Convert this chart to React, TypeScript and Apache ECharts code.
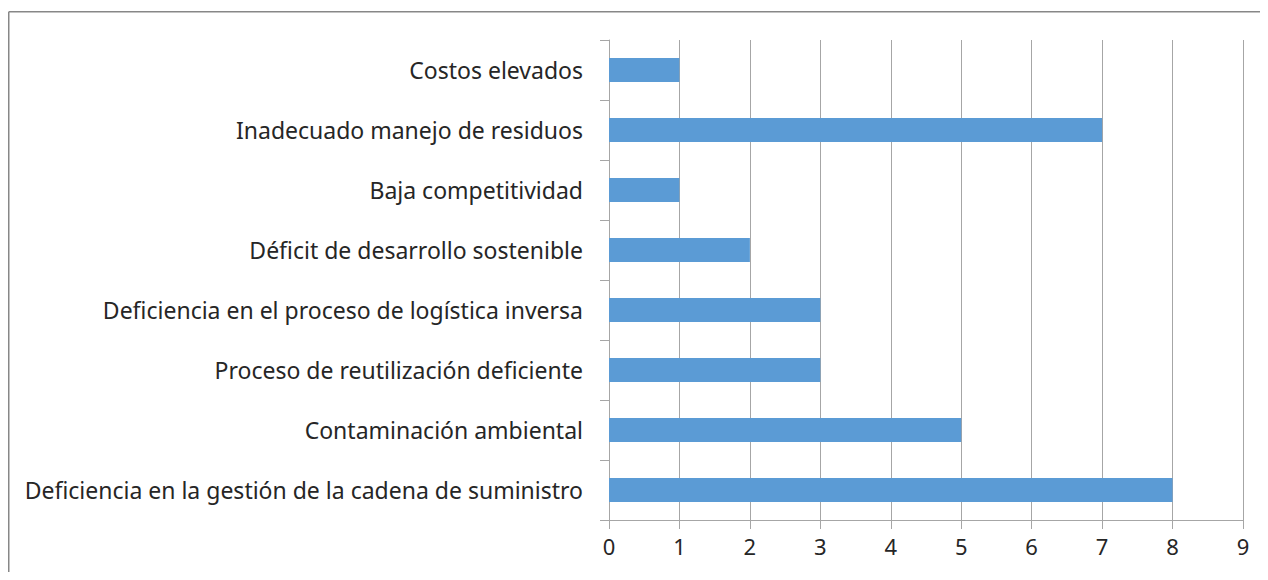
import React, { useEffect, useRef } from "react";
import * as echarts from "echarts";

const categories = [
  "Deficiencia en la gestión de la cadena de suministro",
  "Contaminación ambiental",
  "Proceso de reutilización deficiente",
  "Deficiencia en el proceso de logística inversa",
  "Déficit de desarrollo sostenible",
  "Baja competitividad",
  "Inadecuado manejo de residuos",
  "Costos elevados",
];
const values = [8, 5, 3, 3, 2, 1, 7, 1];
const xTicks = [0, 1, 2, 3, 4, 5, 6, 7, 8, 9];

export default function App() {
  const ref = useRef<HTMLDivElement>(null);
  useEffect(() => {
    const chart = echarts.init(ref.current!, null, { renderer: "svg" });
    chart.setOption({
      animation: false,
      graphic: [
        {
          type: "line",
          shape: { x1: 0.75, y1: 3.75, x2: 1252, y2: 3.75 },
          style: { stroke: "#878787", lineWidth: 1.5 },
        },
        {
          type: "line",
          shape: { x1: 0.75, y1: 3.75, x2: 0.75, y2: 572 },
          style: { stroke: "#878787", lineWidth: 1.5 },
        },
      ],
      grid: { left: 601, right: 17, top: 32, bottom: 52, containLabel: false },
      xAxis: {
        type: "value",
        min: xTicks[0],
        max: xTicks[xTicks.length - 1],
        interval: 1,
        axisLine: { show: true, lineStyle: { color: "#a6a6a6", width: 1 } },
        axisTick: { show: true, length: 9, lineStyle: { color: "#a6a6a6" } },
        splitLine: { show: true, lineStyle: { color: "#a6a6a6", width: 1 } },
        axisLabel: {
          color: "#262626",
          fontSize: 22,
          fontFamily: "Noto Sans",
          margin: 15,
        },
      },
      yAxis: {
        type: "category",
        data: categories,
        axisLine: { show: true, lineStyle: { color: "#a6a6a6", width: 1 } },
        axisTick: { show: true, length: 9, lineStyle: { color: "#a6a6a6" } },
        axisLabel: {
          color: "#262626",
          fontSize: 23,
          fontFamily: "Noto Sans",
          margin: 26,
        },
      },
      series: [
        {
          type: "bar",
          data: values,
          barCategoryGap: "60%",
          itemStyle: { color: "#5b9bd5" },
        },
      ],
    });
    return () => chart.dispose();
  }, []);
  return <div ref={ref} style={{ width: 1252, height: 564 }} />;
}
